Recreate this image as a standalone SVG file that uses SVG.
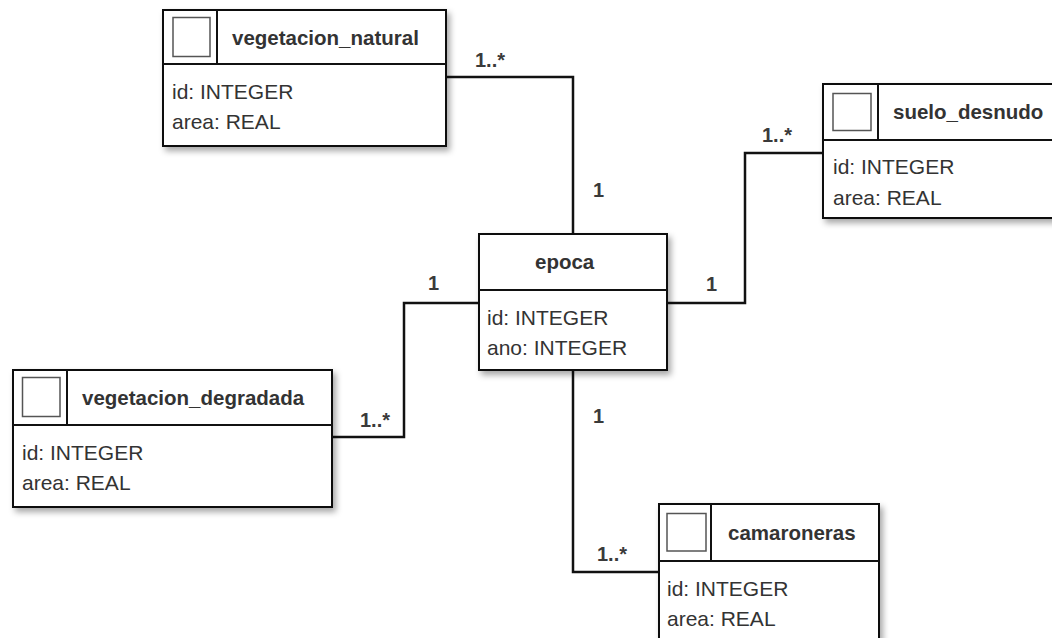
<svg xmlns="http://www.w3.org/2000/svg" width="1052" height="638" viewBox="0 0 1052 638">
  <defs>
    <filter id="shadow" x="-10%" y="-10%" width="130%" height="140%">
      <feDropShadow dx="3" dy="4" stdDeviation="3" flood-color="#000" flood-opacity="0.35"/>
    </filter>
  </defs>
  <style>
    .box { fill: #ffffff; stroke: #111; stroke-width: 2; }
    .sep { stroke: #111; stroke-width: 2; fill: none; }
    .icon { fill: #ffffff; stroke: #555; stroke-width: 1.5; }
    .title { font-family: "Liberation Sans", Arial, sans-serif; font-size: 20.5px; font-weight: bold; fill: #333; }
    .attr { font-family: "Liberation Sans", Arial, sans-serif; font-size: 21px; fill: #333; }
    .mult { font-family: "Liberation Sans", Arial, sans-serif; font-size: 20px; font-weight: bold; fill: #3a3a3a; }
    .edge { stroke: #111; stroke-width: 2.5; fill: none; }
  </style>
  <rect width="1052" height="638" fill="#ffffff"/>

  <!-- associations -->
  <g id="connectors">
    <polyline class="edge" points="446,77 573,77 573,234"/>
    <polyline class="edge" points="667,303 745,303 745,153 823,153"/>
    <polyline class="edge" points="479,303 404,303 404,437 332,437"/>
    <polyline class="edge" points="573,370 573,572 659,572"/>
    <text class="mult" x="475" y="67">1..*</text>
    <text class="mult" x="593" y="197">1</text>
    <text class="mult" x="706" y="291">1</text>
    <text class="mult" x="762" y="142">1..*</text>
    <text class="mult" x="428" y="290">1</text>
    <text class="mult" x="360" y="427">1..*</text>
    <text class="mult" x="593" y="423">1</text>
    <text class="mult" x="597" y="561">1..*</text>
  </g>

  <g id="vegetacion_natural">
    <rect class="box" x="163" y="10" width="283" height="136" filter="url(#shadow)"/>
    <line class="sep" x1="163" y1="64" x2="446" y2="64"/>
    <line class="sep" x1="217" y1="10" x2="217" y2="64"/>
    <rect class="icon" x="173" y="17.5" width="37" height="39"/>
    <text class="title" x="232" y="45">vegetacion_natural</text>
    <text class="attr" x="172" y="99">id: INTEGER</text>
    <text class="attr" x="172" y="129">area: REAL</text>
  </g>

  <g id="suelo_desnudo">
    <rect class="box" x="823" y="84" width="240" height="134" filter="url(#shadow)"/>
    <line class="sep" x1="823" y1="140" x2="1063" y2="140"/>
    <line class="sep" x1="878" y1="84" x2="878" y2="140"/>
    <rect class="icon" x="833" y="93.5" width="38" height="37"/>
    <text class="title" x="893" y="119">suelo_desnudo</text>
    <text class="attr" x="833" y="174">id: INTEGER</text>
    <text class="attr" x="833" y="205">area: REAL</text>
  </g>

  <g id="epoca">
    <rect class="box" x="479" y="234" width="188" height="136" filter="url(#shadow)"/>
    <line class="sep" x1="479" y1="290" x2="667" y2="290"/>
    <text class="title" x="535" y="269">epoca</text>
    <text class="attr" x="487" y="325">id: INTEGER</text>
    <text class="attr" x="487" y="355">ano: INTEGER</text>
  </g>

  <g id="vegetacion_degradada">
    <rect class="box" x="13" y="370" width="319" height="137" filter="url(#shadow)"/>
    <line class="sep" x1="13" y1="425" x2="332" y2="425"/>
    <line class="sep" x1="67" y1="370" x2="67" y2="425"/>
    <rect class="icon" x="22.5" y="377.5" width="37.5" height="39"/>
    <text class="title" x="82" y="405">vegetacion_degradada</text>
    <text class="attr" x="22" y="460">id: INTEGER</text>
    <text class="attr" x="22" y="490">area: REAL</text>
  </g>

  <g id="camaroneras">
    <rect class="box" x="659" y="504" width="220" height="150" filter="url(#shadow)"/>
    <line class="sep" x1="659" y1="561" x2="879" y2="561"/>
    <line class="sep" x1="711" y1="504" x2="711" y2="561"/>
    <rect class="icon" x="667" y="513.5" width="39" height="37.5"/>
    <text class="title" x="728" y="540">camaroneras</text>
    <text class="attr" x="667" y="596">id: INTEGER</text>
    <text class="attr" x="667" y="626">area: REAL</text>
  </g>
</svg>
